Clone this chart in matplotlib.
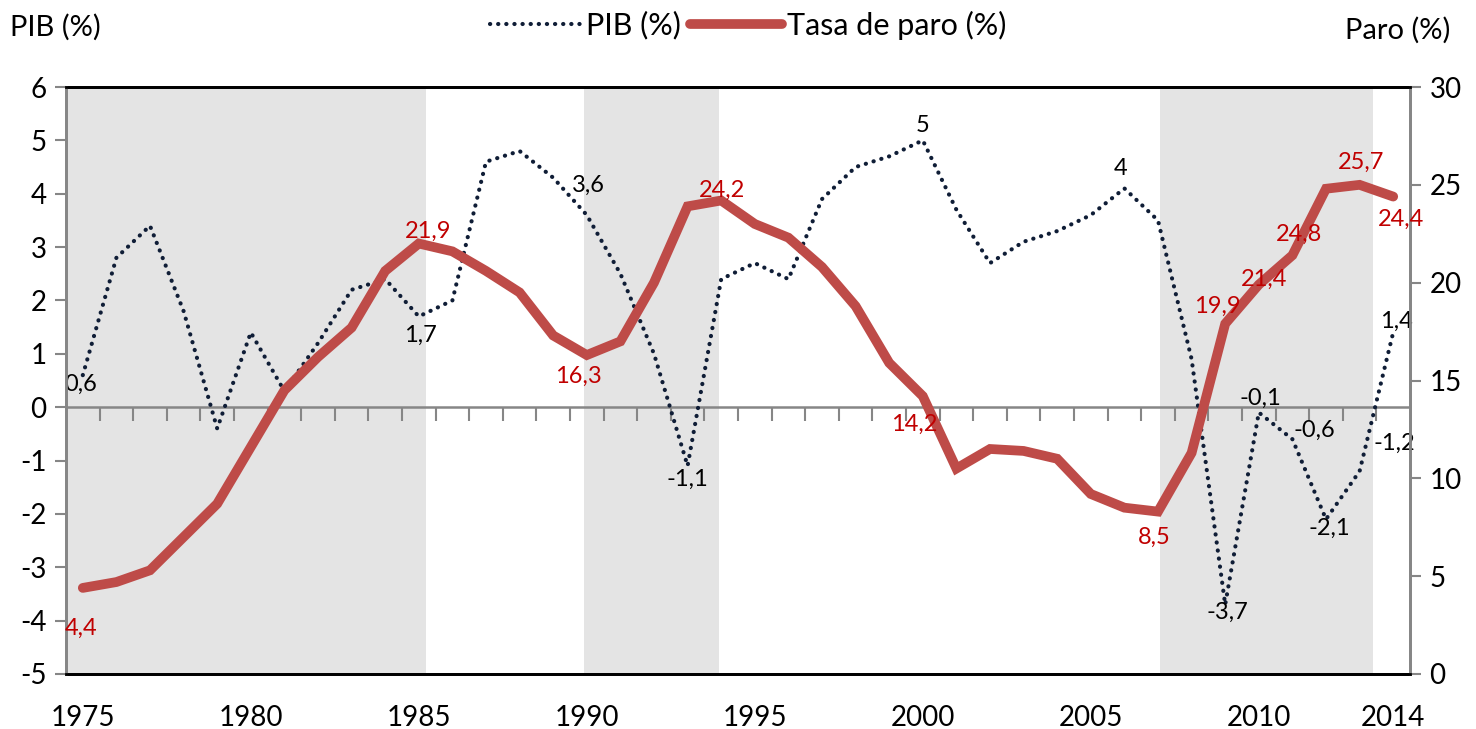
import matplotlib
matplotlib.use("Agg")
import matplotlib.pyplot as plt
import numpy as np

plt.rcParams['font.family'] = ['Lato', 'DejaVu Sans']
plt.rcParams['axes.unicode_minus'] = False

years = list(range(1975, 2015))
pib = [0.6, 2.8, 3.4, 1.8, -0.4, 1.4, 0.3, 1.2, 2.2, 2.4,
       1.7, 2.0, 4.6, 4.8, 4.3, 3.6, 2.5, 1.0, -1.1, 2.4,
       2.7, 2.4, 3.9, 4.5, 4.7, 5.0, 3.7, 2.7, 3.1, 3.3,
       3.6, 4.1, 3.5, 0.9, -3.7, -0.1, -0.6, -2.1, -1.2, 1.4]
paro = [4.4, 4.7, 5.3, 7.0, 8.7, 11.6, 14.5, 16.2, 17.7, 20.6,
        22.0, 21.6, 20.6, 19.5, 17.3, 16.3, 17.0, 20.0, 23.9, 24.2,
        23.0, 22.3, 20.8, 18.8, 15.9, 14.2, 10.5, 11.5, 11.4, 11.0,
        9.2, 8.5, 8.3, 11.3, 17.9, 19.9, 21.4, 24.8, 25.0, 24.4]
shade_periods = [(1974.5, 1985.2), (1989.92, 1993.92), (2007.05, 2013.4)]
xtick_years = [1975, 1980, 1985, 1990, 1995, 2000, 2005, 2010, 2014]

# labels: (year, text, dx_px, dy_px)
pib_labels = [(1975, "0,6", -2, -9), (1985, "1,7", 2, -19), (1990, "3,6", 2, 30),
              (1993, "-1,1", 0, -13), (2000, "5", 0, 15), (2006, "4", -4, 20),
              (2009, "-3,7", 2, -8), (2010, "-0,1", 2, 14), (2011, "-0,6", 22, 9),
              (2012, "-2,1", 3, -9), (2013, "-1,2", 35, 28), (2014, "1,4", 3, 11)]
paro_labels = [(1975, "4,4", -2, -40), (1985, "21,9", 9, 12), (1990, "16,3", -8, -21),
               (1994, "24,2", 1, 10), (2000, "14,2", -9, -28), (2007, "8,5", -4, -26),
               (2010, "19,9", -41, -22), (2011, "21,4", -28, -24), (2012, "24,8", -27, -46),
               (2013, "25,7", 1, 22), (2014, "24,4", 8, -23)]

fig = plt.figure(figsize=(14.76, 7.29), dpi=100)
ax = fig.add_axes([66/1476, 1-674/729, (1410-66)/1476, (674-87)/729])
ax2 = ax.twinx()

gray = '#868686'
for a, b in shade_periods:
    ax.axvspan(a, b, color='#E4E4E4', zorder=0, lw=0)

ax.set_xlim(1974.5, 2014.5)
ax.set_ylim(-5, 6)
ax2.set_ylim(0, 30)

ax.plot(years, pib, color='#0F1D36', lw=3.0, linestyle=(0, (0.05, 1.9)),
        dash_capstyle='round', zorder=3, label='PIB (%)')
ln2, = ax2.plot(years, paro, color='#BE4B48', lw=7, solid_joinstyle='miter',
                solid_capstyle='round', zorder=3, label='Tasa de paro (%)')

# zero axis with ticks between categories
ax.axhline(0, color=gray, lw=1.8, zorder=2)
sec = ax.secondary_xaxis(5/11)
sec.set_xticks(np.arange(1975.5, 2014.5, 1.0))
sec.tick_params(axis='x', direction='out', length=10, width=1.5, color=gray,
                labelbottom=False, labeltop=False, bottom=True, top=False)
sec.spines['bottom'].set_visible(False)
sec.spines['top'].set_visible(False)

ax.set_xticks(xtick_years)
ax.set_xticklabels([str(y) for y in xtick_years])
ax.tick_params(axis='x', length=0, labelsize=20, pad=22)
ax.set_yticks(range(-5, 7))
ax.tick_params(axis='y', length=8, width=1.5, color=gray, labelsize=20, pad=6)
ax2.set_yticks(range(0, 31, 5))
ax2.tick_params(axis='y', length=8, width=1.5, color=gray, labelsize=20, pad=6)

for a in (ax, ax2):
    a.spines['left'].set_color(gray)
    a.spines['right'].set_color(gray)
    a.spines['left'].set_linewidth(2)
    a.spines['right'].set_linewidth(2)
    a.spines['top'].set_color('black')
    a.spines['top'].set_linewidth(2)
    a.spines['bottom'].set_color('black')
    a.spines['bottom'].set_linewidth(2)

k = 0.72
for yr, t, dx, dy in pib_labels:
    v = pib[years.index(yr)]
    ax.annotate(t, (yr, v), xytext=(dx*k, dy*k), textcoords='offset points',
                ha='center', va='center', fontsize=17, color='black', zorder=5)
for yr, t, dx, dy in paro_labels:
    v = paro[years.index(yr)]
    ax2.annotate(t, (yr, v), xytext=(dx*k, dy*k), textcoords='offset points',
                 ha='center', va='center', fontsize=17, color='#C00000', zorder=5)

h1, l1 = ax.get_legend_handles_labels()
fig.legend(h1 + [ln2], l1 + ['Tasa de paro (%)'], loc='center',
           bbox_to_anchor=(748/1476, 1-25/729), ncol=2, frameon=False,
           fontsize=22, handlelength=3.0, columnspacing=0.3, handletextpad=0.15)

fig.text(10/1476, 1-27/729, 'PIB (%)', ha='left', va='center', fontsize=21)
fig.text(1450/1476, 1-30/729, 'Paro (%)', ha='right', va='center', fontsize=21)

fig.savefig('out.png', dpi=100)
